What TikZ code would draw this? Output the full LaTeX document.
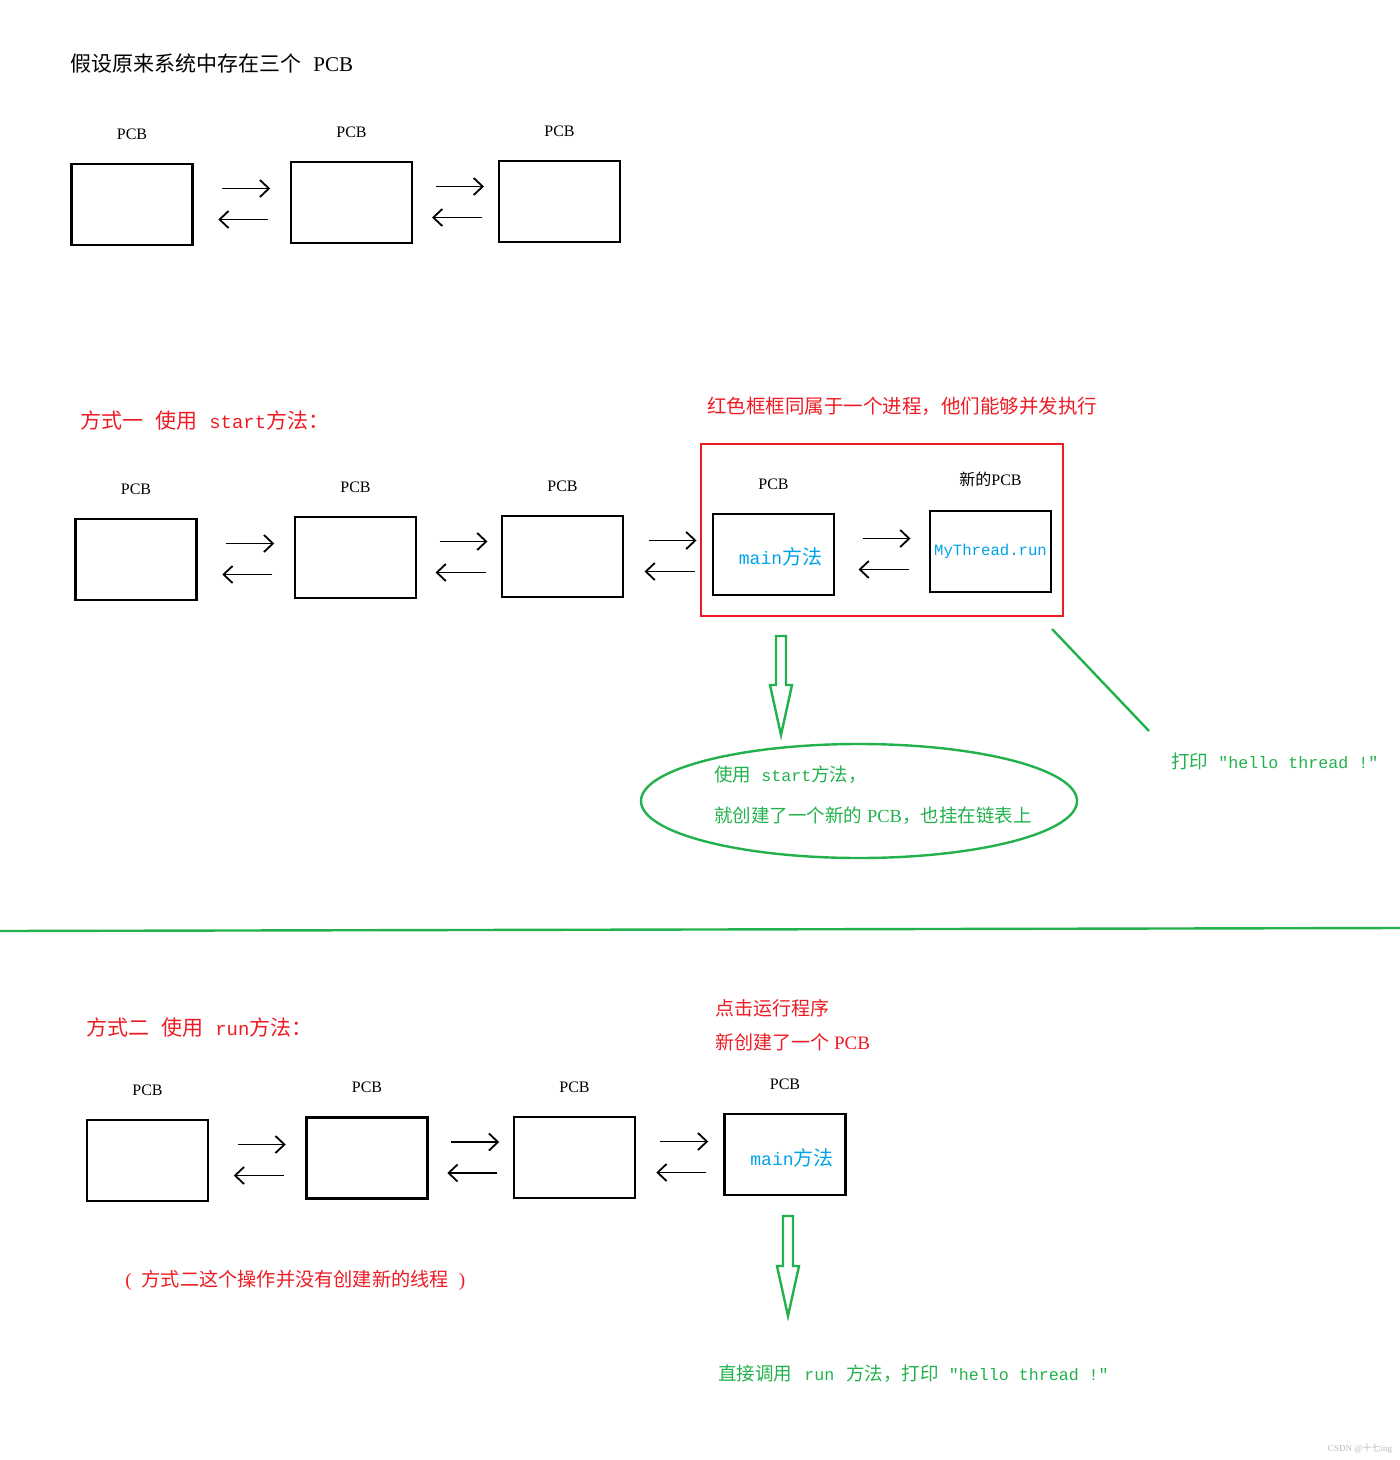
\documentclass[tikz,border=0pt]{standalone}
\usepackage{fontspec}
\setmainfont{Liberation Serif}
\setmonofont{Liberation Mono}[Scale=0.9]
\newfontfamily\cjk{Noto Sans CJK SC}
\usetikzlibrary{positioning,arrows.meta,shapes.geometric,calc}
\definecolor{pred}{RGB}{237,28,36}
\definecolor{pgreen}{RGB}{34,177,76}
\definecolor{pblue}{RGB}{0,162,232}
\newcommand\zh[1]{{\cjk #1}}
\newcommand\fs[1]{\fontsize{#1}{#1}\selectfont}
\tikzset{
  pcb/.style={draw, line width=1.2pt, minimum width=60.5pt, minimum height=40.5pt, inner sep=0pt},
  tag/.style={inner sep=0pt, font=\fs{8pt}},
  link/.style={line width=0.9pt, -{Straight Barb[length=4.5pt,width=8.5pt,line width=0.9pt]}},
  redtxt/.style={text=pred, anchor=west, inner sep=0pt},
  greentxt/.style={text=pgreen, anchor=west, inner sep=0pt},
  bluetxt/.style={text=pblue},
  frame/.style={draw=pred, line width=1.2pt, minimum width=181pt, minimum height=86pt, inner sep=0pt},
  bubble/.style={ellipse, draw=pgreen, line width=1.2pt, minimum width=218pt, minimum height=57pt, inner sep=0pt},
  hollow/.style={draw=pgreen, line width=1.2pt, line join=miter},
  pointer/.style={draw=pgreen, line width=1.2pt}
}
% pair of arrows between two neighbouring PCBs
\newcommand\twoway[2]{%
  \coordinate (#1#2) at ($(#1.east)!0.5!(#1.east -| #2.west)$);
  \draw[link] ($(#1#2)+(-19.5,-16)$) -- ($(#1#2)+(28.5,-16)$);
  \draw[link] ($(#1#2)+(26.5,15)$) -- ($(#1#2)+(-23.5,15)$);
}
% big hollow arrow pointing down
\newcommand\hollowdown[2]{%
  \draw[hollow] ($(#1)+(-5,0)$) -- ($(#1)+(5,0)$) -- ($(#2)+(5,-50)$) -- ($(#2)+(11,-50)$)
    -- (#2) -- ($(#2)+(-11,-50)$) -- ($(#2)+(-5,-50)$) -- cycle;
}
\begin{document}
\begin{tikzpicture}[x=0.5pt, y=-0.5pt, node distance=11.5pt]
  \useasboundingbox (0,0) rectangle (1400,1460);

  % existing PCBs
  \node[anchor=west, inner sep=0pt, font=\fs{10.5pt}] (title) at (70,64) {\zh{假设原来系统中存在三个}\hspace{6pt}PCB};
  \node[pcb] (b1) at (132,204.5) {};
  \node[pcb] (b2) at (351.5,202.5) {};
  \node[pcb] (b3) at (559.5,201.5) {};
  \node[tag, above=of b1] (lb1) {PCB};
  \node[tag, above=of b2] (lb2) {PCB};
  \node[tag, above=of b3] (lb3) {PCB};
  \twoway{b1}{b2}
  \twoway{b2}{b3}

  % way one: start
  \node[redtxt, font=\fs{10.5pt}] (head1) at (80,421) {\zh{方式一}\hspace{6pt}\zh{使用}\hspace{6pt}\texttt{start}\zh{方法：}};
  \node[redtxt, font=\fs{9.75pt}] (note1) at (707,406) {\zh{红色框框同属于一个进程，他们能够并发执行}};
  \node[frame] (grp) at (882,530) {};
  \node[pcb] (c1) at (136,559.5) {};
  \node[pcb] (c2) at (355.5,557.5) {};
  \node[pcb] (c3) at (562.5,556.5) {};
  \node[pcb] (c4) at (773.5,554.5) {};
  \node[pcb] (c5) at (990.5,551.5) {};
  \node[bluetxt, font=\fs{10pt}] at ([xshift=3.5pt,yshift=-1pt]c4) {\texttt{main}\zh{方法}};
  \node[bluetxt, font=\fs{8.7pt}] at (c5) {\texttt{MyThread.run}};
  \node[tag, above=of c1] (lc1) {PCB};
  \node[tag, above=of c2] (lc2) {PCB};
  \node[tag, above=of c3] (lc3) {PCB};
  \node[tag, above=of c4] (lc4) {PCB};
  \node[tag, above=of c5] (lc5) {\zh{新的}PCB};
  \twoway{c1}{c2}
  \twoway{c2}{c3}
  \twoway{c3}{c4}
  \twoway{c4}{c5}

  \coordinate (s1) at (781,636);
  \coordinate (t1) at (781,735);
  \hollowdown{s1}{t1}
  \node[bubble] (ell) at (859,801) {};
  \node[greentxt, align=left, font=\fontsize{9.25pt}{20.5pt}\selectfont] (elltext) at (714,795.5)
    {\zh{使用}\hspace{5pt}\texttt{start}\zh{方法，}\\\zh{就创建了一个新的}\ PCB\zh{，也挂在链表上}};

  \coordinate (p0) at (1052,629);
  \coordinate (p1) at (1149,731);
  \draw[pointer] (p0) -- (p1);
  \node[greentxt, font=\fs{9.25pt}] (print1) at (1171,761) {\zh{打印}\hspace{5pt}\texttt{"hello thread !"}};

  \draw[pgreen, line width=1.2pt] (0,931) -- (1400,928);

  % way two: run
  \node[redtxt, font=\fs{10.5pt}] (head2) at (86,1027) {\zh{方式二}\hspace{6pt}\zh{使用}\hspace{6pt}\texttt{run}\zh{方法：}};
  \node[redtxt, font=\fs{9.5pt}] (note2a) at (715,1008) {\zh{点击运行程序}};
  \node[redtxt, font=\fs{9.5pt}] (note2b) at (715,1042) {\zh{新创建了一个}\ PCB};
  \node[pcb] (d1) at (147.5,1160.5) {};
  \node[pcb] (d2) at (367,1158) {};
  \node[pcb] (d3) at (574.5,1157.5) {};
  \node[pcb] (d4) at (785,1154.5) {};
  \node[bluetxt, font=\fs{10pt}] at ([xshift=3.5pt,yshift=-1.5pt]d4) {\texttt{main}\zh{方法}};
  \node[tag, above=of d1] (ld1) {PCB};
  \node[tag, above=of d2] (ld2) {PCB};
  \node[tag, above=of d3] (ld3) {PCB};
  \node[tag, above=of d4] (ld4) {PCB};
  \twoway{d1}{d2}
  \twoway{d2}{d3}
  \twoway{d3}{d4}

  \node[redtxt, font=\fs{9.6pt}] (remark) at (125,1280) {(\hspace{5pt}\zh{方式二这个操作并没有创建新的线程}\hspace{5pt})};

  \coordinate (s2) at (788,1216);
  \coordinate (t2) at (788,1316);
  \hollowdown{s2}{t2}
  \node[greentxt, font=\fs{9.25pt}] (print2) at (718,1374)
    {\zh{直接调用}\hspace{6pt}\texttt{run}\hspace{6pt}\zh{方法，打印}\hspace{5pt}\texttt{"hello thread !"}};

  \node[text=gray!55, inner sep=0pt, font=\fs{4.5pt}] (mark) at (1360,1449) {CSDN @\zh{十七}ing};
\end{tikzpicture}
\end{document}
